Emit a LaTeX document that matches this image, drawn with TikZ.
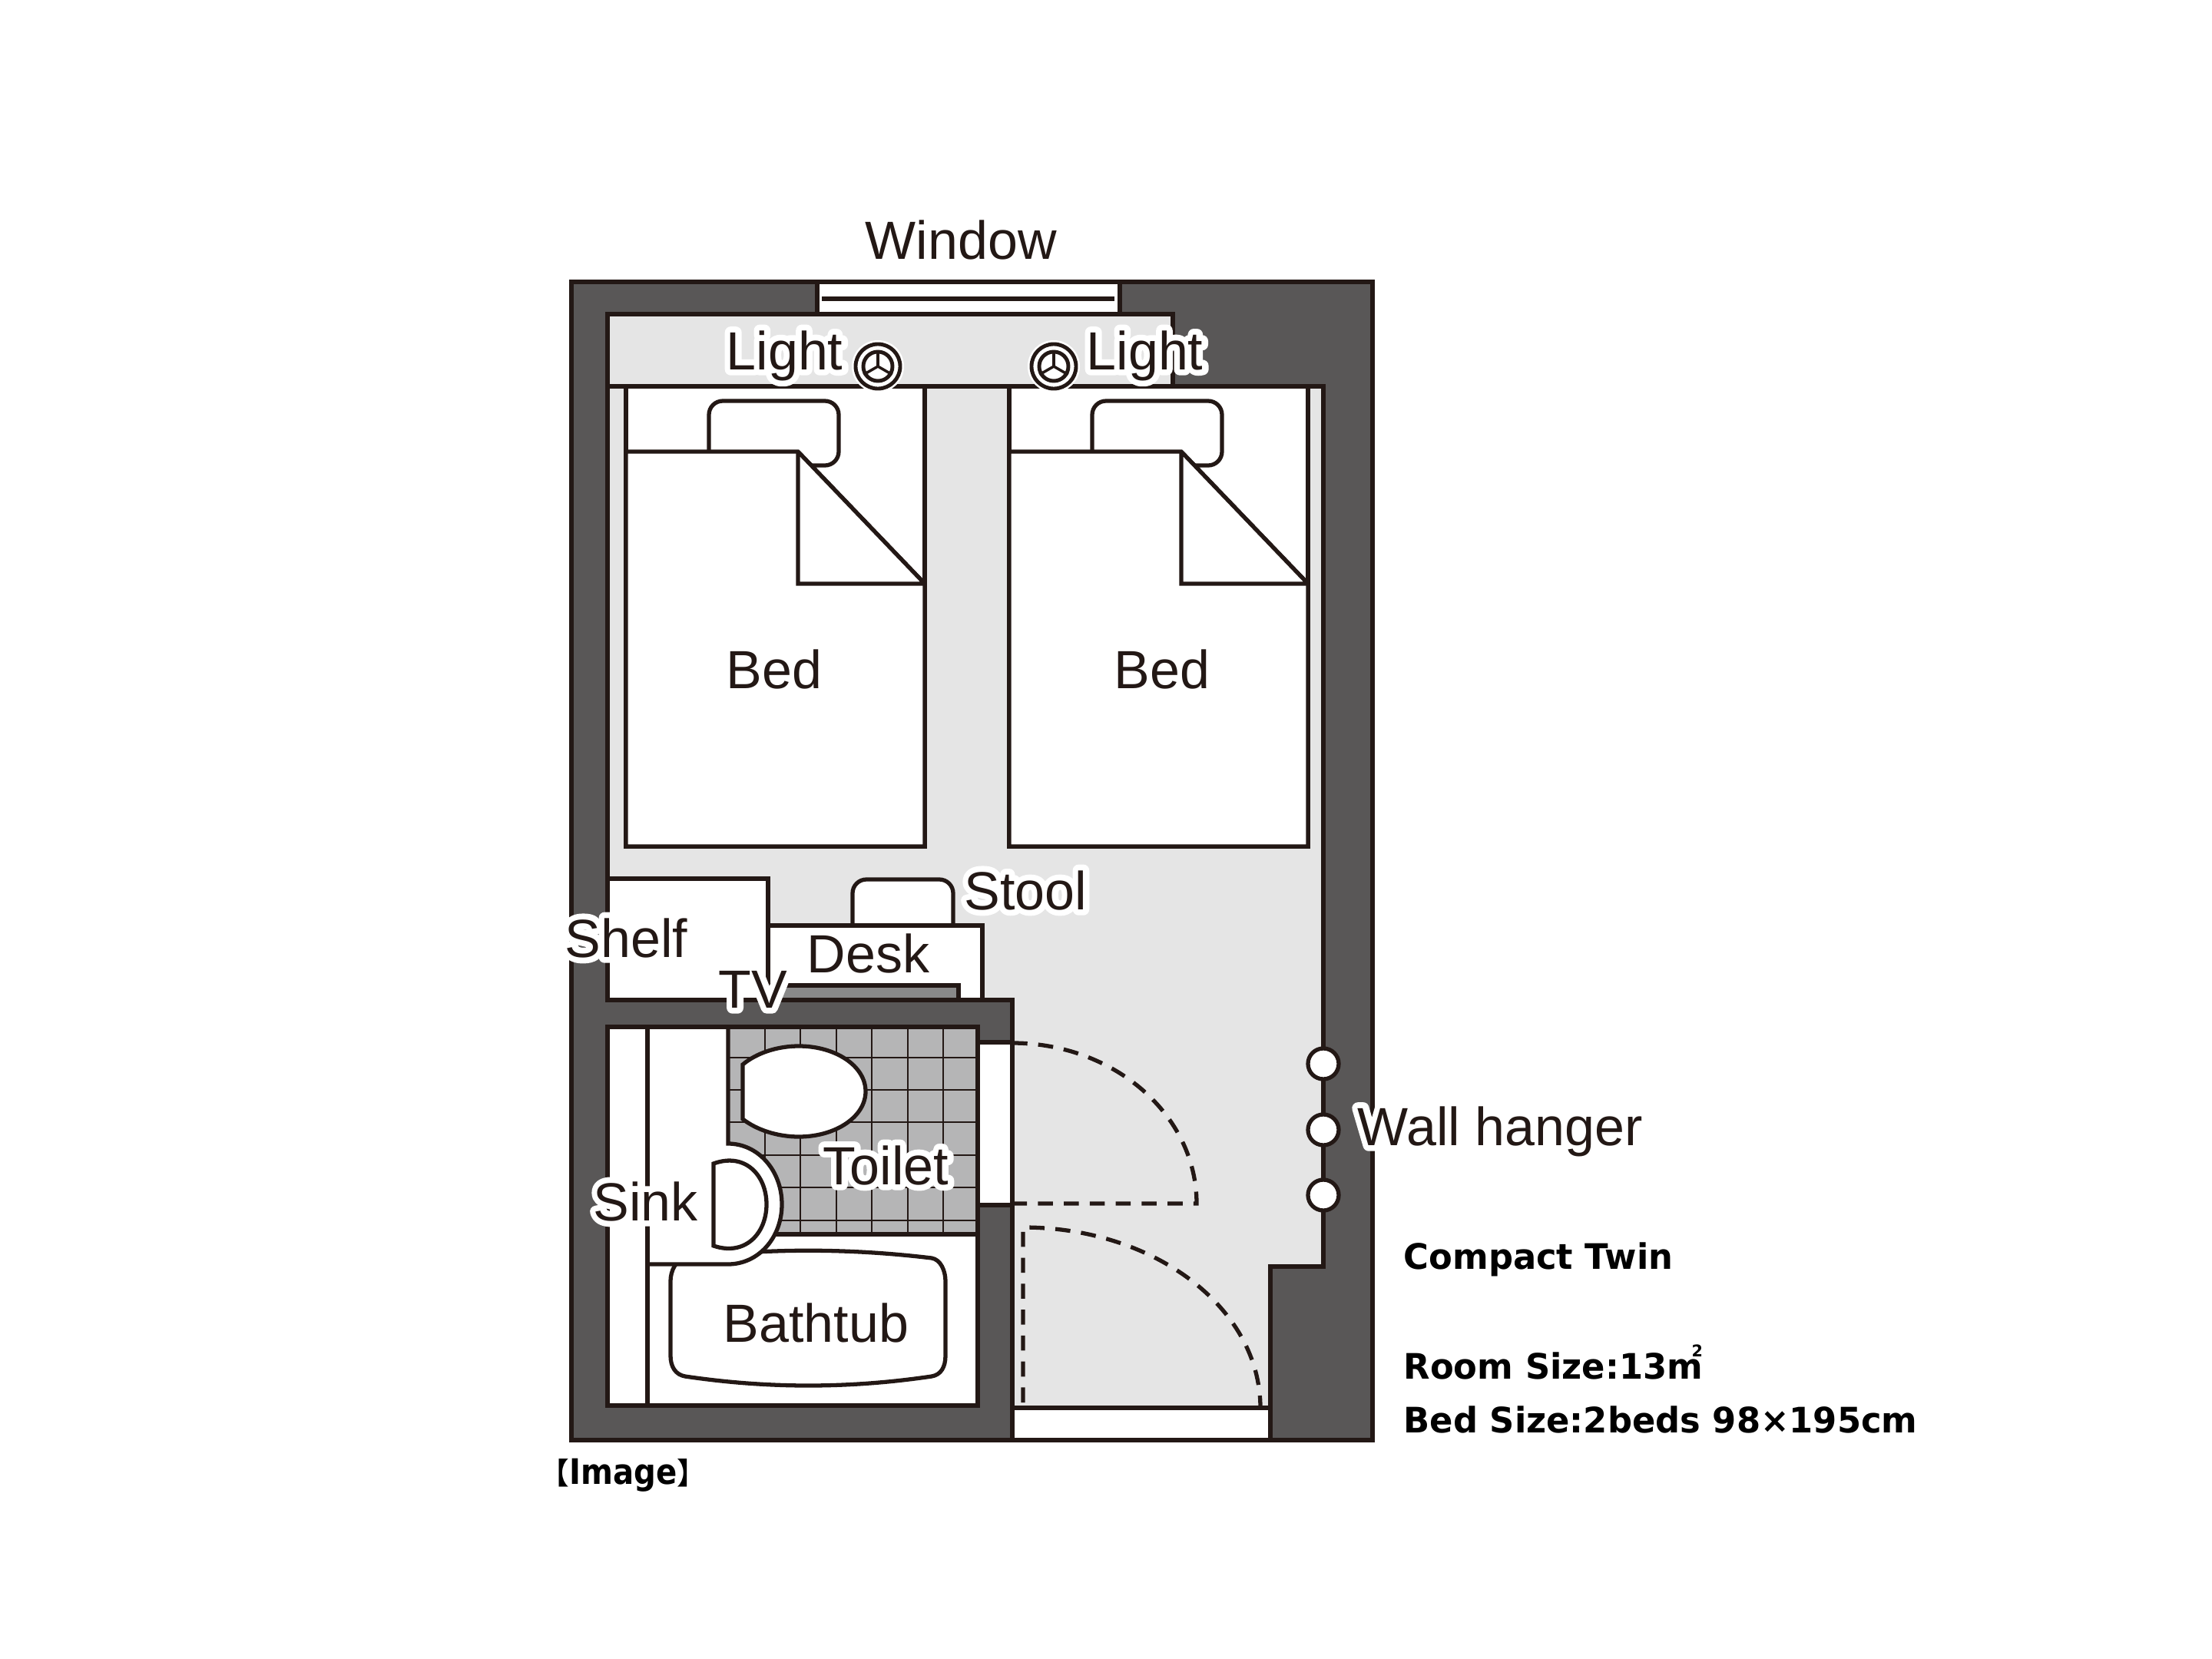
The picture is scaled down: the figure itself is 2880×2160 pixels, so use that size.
\documentclass[tikz,border=0pt]{standalone}
\usepackage{fontspec}
\usepackage{xcolor}
\setmainfont{Liberation Sans}
\newfontfamily\halofont[FakeBold=22,Color=FFFFFF]{Liberation Sans}
\newfontfamily\infofont[FakeStretch=0.98]{DejaVu Sans Bold}
\newfontfamily\imagefont[FakeStretch=0.88]{DejaVu Sans Bold}
\newfontfamily\cjkfont{Noto Sans CJK JP Bold}
\definecolor{WALL}{HTML}{595757}
\definecolor{FLOOR}{HTML}{E5E5E5}
\definecolor{INK}{HTML}{231815}
\definecolor{TILE}{HTML}{B5B5B6}
\definecolor{SCREEN}{HTML}{898989}
\newcommand{\halolabel}[1]{\special{pdf:code 1 j 1 J}\rlap{\halofont #1}#1}
\newcommand{\sqm}{m\llap{\raisebox{0.62em}{\fontsize{6}{6}\selectfont 2}}}
\tikzset{
	plain/.style={draw=INK,line width=1.5pt,line join=miter,miter limit=2},
	fixture/.style={plain,fill=white},
	hairline/.style={draw=INK,line width=0.8pt},
	swing/.style={draw=INK,line width=1.5pt,dash pattern=on 5.6pt off 4pt},
	lbl/.style={inner sep=0,anchor=base west,text=INK,font=\fontsize{19.9}{24}\selectfont},
	info/.style={inner sep=0,anchor=base west,text=black,font=\infofont\fontsize{13}{16}\selectfont},
	hanger/.style={circle,fixture,inner sep=0,minimum size=0.4cm}
}

\begin{document}
\begin{tikzpicture}[x=0.01cm,y=-0.01cm]
	\useasboundingbox (0,0) rectangle (2880,2160);

	% walls and floor
	\path[plain,fill=WALL] (744,367) rectangle (1787,1875);
	\path[plain,fill=FLOOR] (791,409) -- (1527,409) -- (1527,503) -- (1723,503) -- (1723,1649) -- (1654,1649) -- (1654,1833) -- (1318,1833) -- (1318,1302) -- (791,1302) -- cycle;
	\path[fixture] (1064,367) rectangle (1458,409);
	\draw[draw=INK,line width=1.5pt] (1070,389) -- (1451,389);
	\path[fixture] (1318,1833) rectangle (1654,1875);
	\path[fixture] (1273,1357) rectangle (1318,1569);
	\draw[plain] (791,503) -- (1723,503);

	% beds
	\foreach \bx in {0,499} {
		\begin{scope}[xshift=\bx*0.01cm]
			\path[fixture] (815,503) rectangle (1204,1102);
			\path[fixture,rounded corners=0.18cm] (923,522) rectangle (1092,606);
			\path[fixture] (815,588) -- (1039,588) -- (1204,760) -- (1204,1102) -- (815,1102) -- cycle;
			\path[fixture] (1039,588) -- (1204,760) -- (1039,760) -- cycle;
		\end{scope}
	}

	% lights
	\foreach \lx/\ln in {1143/lightA,1372/lightB} {
		\fill[white] (\lx,477) circle (0.34cm);
		\path[plain,line width=1.4pt] (\lx,477) circle (0.29cm);
		\node[circle,fixture,line width=1.4pt,inner sep=0,minimum size=0.38cm] (\ln) at (\lx,477) {};
		\draw[hairline,line width=1pt] (\ln.center) -- (\ln.90);
		\draw[hairline,line width=1pt] (\ln.center) -- (\ln.210);
		\draw[hairline,line width=1pt] (\ln.center) -- (\ln.330);
	}

	% shelf, stool, desk
	\path[fixture] (791,1144) rectangle (1000,1302);
	\path[fixture,rounded corners=0.18cm] (1110,1203) -- (1110,1145) -- (1241,1145) -- (1241,1203);
	\path[fixture] (1000,1205) rectangle (1279,1302);
	\path[plain,fill=SCREEN] (1000,1302) -- (1000,1283) -- (1248,1283) -- (1248,1302);
	\draw[plain] (791,1302) -- (1318,1302);

	% bathroom
	\path[fixture] (791,1337) rectangle (1273,1830);
	\path[fixture] (892,1638) .. controls (1000,1625) and (1105,1625) .. (1213,1638) .. controls (1225,1640) and (1231,1655) .. (1231,1668) -- (1231,1765) .. controls (1231,1780) and (1225,1790) .. (1213,1792) .. controls (1105,1808) and (1000,1808) .. (892,1792) .. controls (880,1790) and (873,1780) .. (873,1765) -- (873,1668) .. controls (873,1655) and (880,1640) .. (892,1638) -- cycle;
	\fill[TILE] (948,1337) rectangle (1273,1607);
	\foreach \gx in {996,1042,1089,1135,1182,1228} {
		\draw[hairline] (\gx,1337) -- (\gx,1607);
	}
	\foreach \gy in {1377,1419,1461,1504,1546,1589} {
		\draw[hairline] (948,\gy) -- (1273,\gy);
	}
	\draw[plain] (948,1607) -- (1273,1607);
	\path[fixture] (967,1386) .. controls (985,1371) and (1012,1362) .. (1040,1362) .. controls (1088,1362) and (1127,1388) .. (1127,1421) .. controls (1127,1454) and (1088,1480) .. (1040,1480) .. controls (1012,1480) and (985,1471) .. (967,1457) -- cycle;
	\fill[white] (948,1337) -- (948,1489) .. controls (987,1489) and (1018,1524) .. (1018,1568) .. controls (1018,1612) and (987,1646) .. (948,1646) -- (843,1646) -- (843,1337) -- cycle;
	\draw[plain] (948,1337) -- (948,1489) .. controls (987,1489) and (1018,1524) .. (1018,1568) .. controls (1018,1612) and (987,1646) .. (948,1646) -- (843,1646);
	\draw[plain] (843,1337) -- (843,1830);
	\path[fixture] (929,1515) .. controls (970,1500) and (998,1530) .. (998,1568) .. controls (998,1606) and (970,1636) .. (929,1622) -- cycle;
	\path[plain] (791,1337) rectangle (1273,1830);

	% door swings
	\draw[swing] (1318,1358) .. controls (1451,1358) and (1558,1452) .. (1558,1567) -- (1318,1567);
	\draw[swing] (1332,1826) -- (1332,1598) .. controls (1503,1598) and (1641,1703) .. (1641,1833);

	% hangers
	\node[hanger] (hangerA) at (1723,1385) {};
	\node[hanger] (hangerB) at (1723,1471) {};
	\node[hanger] (hangerC) at (1723,1556) {};

	% labels
	\node[lbl] (window)  at (1126,337)  {Window};
	\node[lbl] (lightL)  at (945,481)   {\halolabel{Light}};
	\node[lbl] (lightR)  at (1414,481)  {\halolabel{Light}};
	\node[lbl] (bedL)    at (945,896)   {Bed};
	\node[lbl] (bedR)    at (1450,896)  {Bed};
	\node[lbl] (stool)   at (1255,1184) {\halolabel{Stool}};
	\node[lbl] (shelf)   at (735,1246)  {\halolabel{Shelf}};
	\node[lbl] (desk)    at (1050,1266) {Desk};
	\node[lbl] (tv)      at (935,1312)  {\halolabel{TV}};
	\node[lbl] (toilet)  at (1071,1542) {\halolabel{Toilet}};
	\node[lbl] (sink)    at (772,1589)  {\halolabel{Sink}};
	\node[lbl] (bathtub) at (941,1747)  {Bathtub};
	\node[lbl] (wall)    at (1767,1491) {\halolabel{Wall hanger}};
	\node[info] (twin)   at (1827,1652) {Compact Twin};
	\node[info] (room)   at (1827,1795) {Room Size:13\sqm};
	\node[info] (size)   at (1827,1865) {Bed Size:2beds 98×195cm};
	\node[info] (image)  at (702,1932)  {{\cjkfont\fontsize{11}{11}\selectfont 【}{\imagefont Image}{\cjkfont\fontsize{11}{11}\selectfont 】}};
\end{tikzpicture}
\end{document}
